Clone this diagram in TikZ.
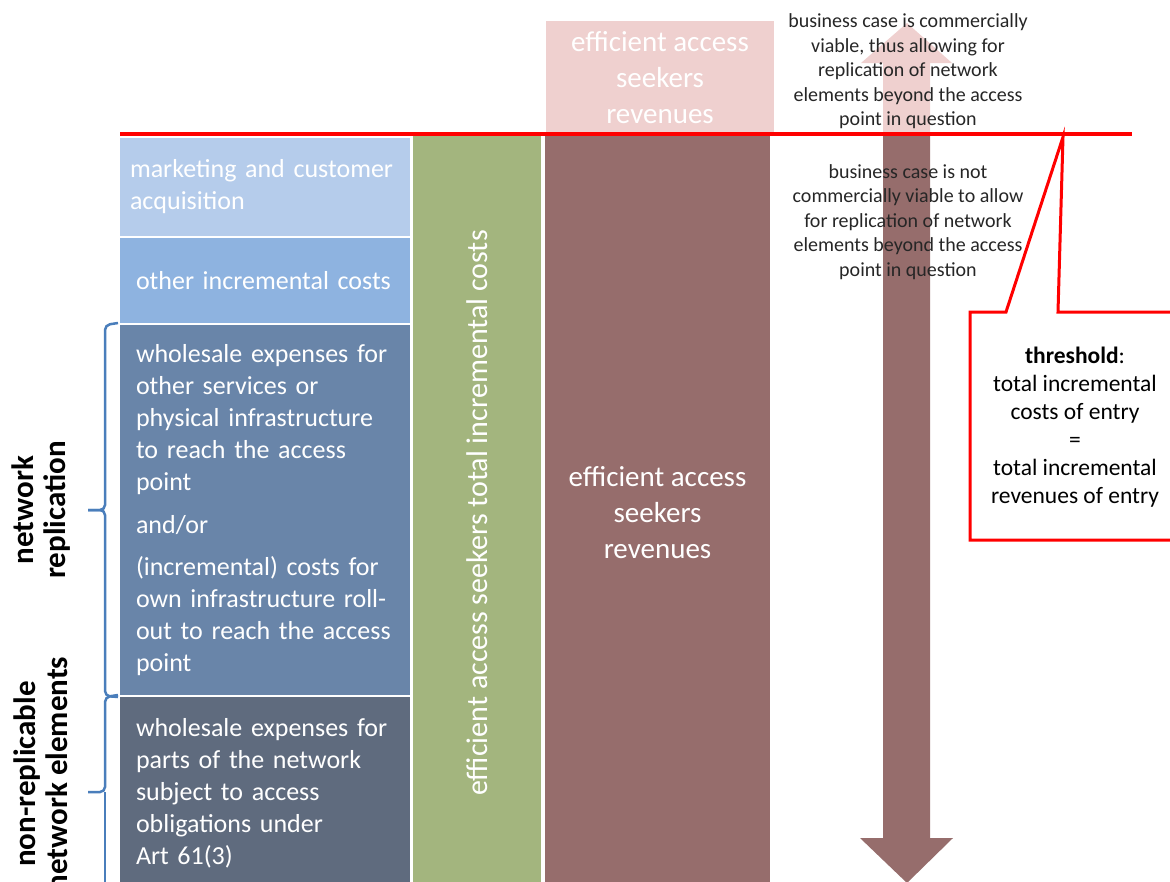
\documentclass[tikz,border=0pt]{standalone}
\usepackage{fontspec}
\setmainfont{Carlito}
\usetikzlibrary{positioning}

\definecolor{mktblue}{HTML}{B5CCEB}
\definecolor{incblue}{HTML}{8EB3E0}
\definecolor{repblue}{HTML}{6985A9}
\definecolor{nrpgrey}{HTML}{5F6B7E}
\definecolor{costgreen}{HTML}{A3B57E}
\definecolor{revbrown}{HTML}{966D6C}
\definecolor{revpale}{HTML}{EFD0CF}
\definecolor{brblue}{HTML}{4A7EBB}

\begin{document}
\begin{tikzpicture}[%
    x=1pt,
    y=-1pt,
    costbox/.style={draw=white, line width=2pt, anchor=north west, text=white,
        align=left, text width=258pt, inner xsep=17pt,
        font={\fontsize{26}{32}\selectfont\hyphenpenalty=10000}},
    colbox/.style={text=white, align=center, inner sep=0pt,
        font={\fontsize{29}{36}\selectfont}},
    remark/.style={align=center, text=black!85, font={\fontsize{20}{24.5}\selectfont}},
    sidelabel/.style={rotate=90, align=center, font={\fontsize{31}{32}\selectfont\bfseries}},
    brace/.style={brblue, line width=2.5pt, rounded corners=5pt}
    ]

    \clip (0,0) rectangle (1170,881);

    % cost stack on the left
    \node at (118,136) [costbox, fill=mktblue, minimum height=100, text width=270pt, inner xsep=11pt] (mkt) {marketing and customer\\acquisition};
    \node at (118,236) [costbox, fill=incblue, minimum height=87] (inc) {other incremental costs};
    \node at (118,323) [costbox, fill=repblue, minimum height=372] (rep) {wholesale expenses for\\other services or\\physical infrastructure\\to reach the access\\point\\[11pt]and/or\\[10pt](incremental) costs for\\own infrastructure roll-\\out  to reach the access\\point};
    \node at (118,695) [costbox, fill=nrpgrey, minimum height=195] (nrp) {wholesale expenses for\\parts of the network\\subject to access\\obligations under\\Art 61(3)};

    % columns
    \node at (477,513) [colbox, fill=costgreen, rotate=90, minimum width=754, minimum height=128, font={\fontsize{30}{36}\selectfont}] (cost) {efficient access seekers total incremental costs};
    \node at (657.5,513) [colbox, fill=revbrown, minimum width=225, minimum height=754] (rev) {efficient access\\seekers\\revenues};
    \node at (660,77.5) [colbox, fill=revpale, minimum width=228, minimum height=113] (revtop) {efficient access\\seekers\\revenues};

    % double arrow
    \fill[revpale] (907,23) -- (952,63) -- (930,63) -- (930,134) -- (883,134) -- (883,63) -- (861,63) -- cycle;
    \fill[revbrown] (883,134) -- (930,134) -- (930,838) -- (953,838) -- (907,883) -- (860,838) -- (883,838) -- cycle;

    % threshold line
    \draw[red, line width=3.5pt] (120,134) -- (1132,134);

    \node at (908,71.5) [remark] (viable) {business case is commercially\\viable, thus allowing for\\replication of network\\elements beyond the access\\point in question};
    \node at (908,222) [remark] (notviable) {business case is not\\commercially viable to allow\\for replication of network\\elements beyond the access\\point in question};

    % callout
    \draw[red, line width=3pt, fill=white] (970,312) -- (1006,312) -- (1063,137) -- (1058,312) -- (1180,312) -- (1180,540) -- (970,540) -- cycle;
    \node at (1075,427) [align=center, font={\fontsize{23.5}{28}\selectfont}] (thr) {\textbf{threshold}:\\total incremental\\costs of entry\\=\\total incremental\\revenues of entry};

    % brackets
    \draw[brace] (rep.north west) -- ++(-13,2) -- (105,510) -- (88,510);
    \draw[brace] (rep.south west) -- ++(-13,-1) -- (105,510) -- (88,510);
    \draw[brace] (nrp.north west) -- ++(-13,2) -- (105,792) -- (88,792);
    \draw[brace] (105,792) -- (105,890);

    \node at (41,510) [sidelabel] (netrep) {network\\replication};
    \node at (41,774) [sidelabel] (nonrep) {non-replicable\\network elements};
\end{tikzpicture}
\end{document}
